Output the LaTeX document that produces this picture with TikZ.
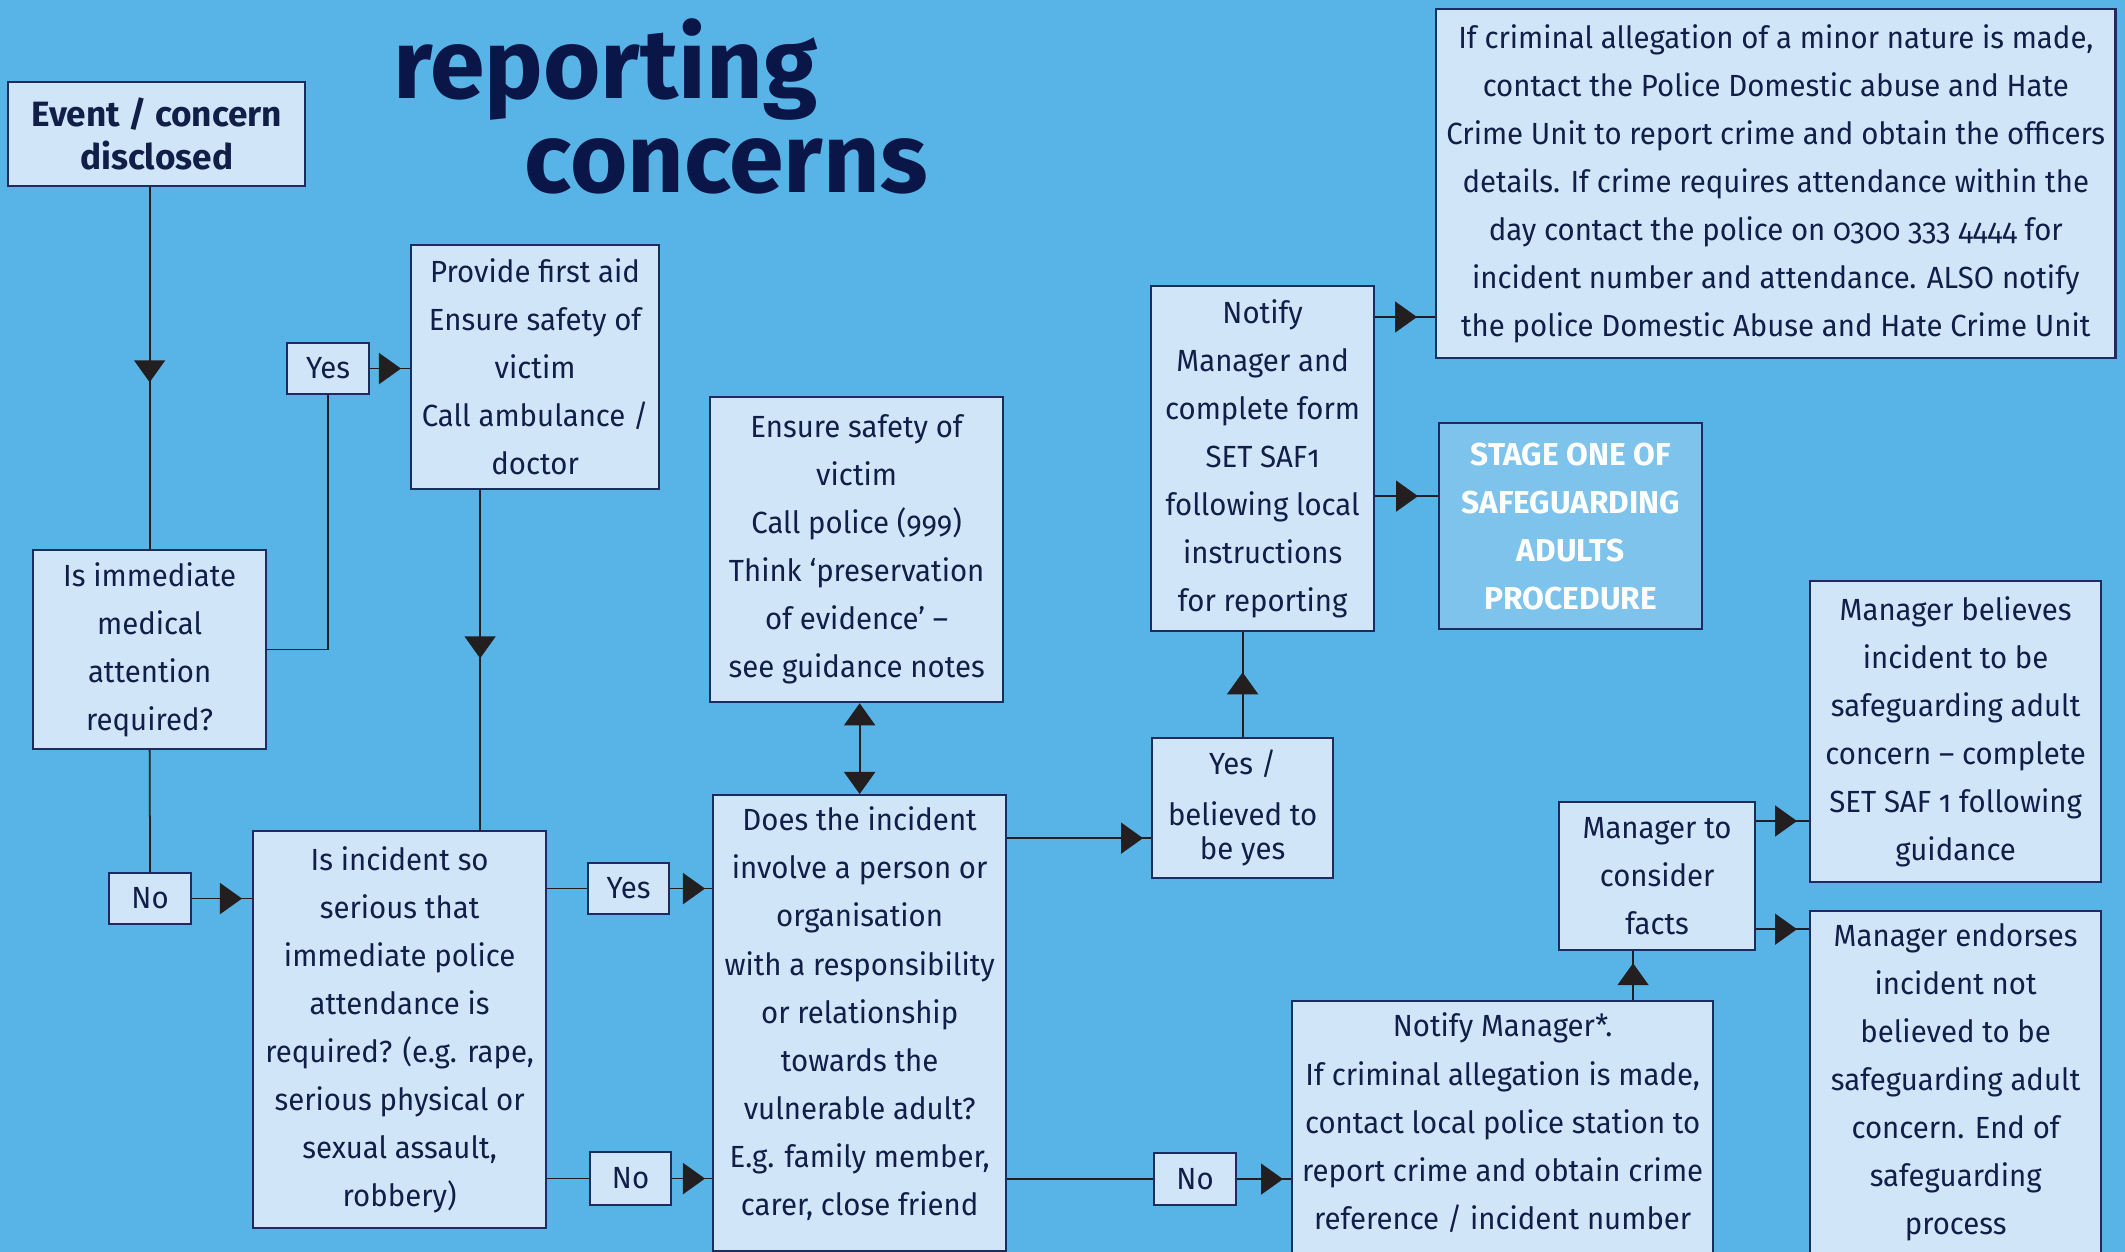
\documentclass[tikz,border=0pt]{standalone}
\usepackage{fontspec}
\setmainfont{Fira Sans}[Numbers=OldStyle]
\newfontfamily\bodyfont{Fira Sans}[Numbers=OldStyle, FakeStretch=0.96]
\usetikzlibrary{arrows.meta,decorations.markings}

\definecolor{sky}{RGB}{88,180,230}
\definecolor{boxfill}{RGB}{208,230,248}
\definecolor{boxline}{RGB}{28,44,96}
\definecolor{ink}{RGB}{16,30,72}
\definecolor{navy}{RGB}{11,22,72}
\definecolor{stagefill}{RGB}{126,195,236}
\definecolor{linecol}{RGB}{35,31,32}

\tikzset{
  tri/.tip={Triangle[length=0.22cm,width=0.31cm]},
  box/.style={draw=boxline, fill=boxfill, line width=0.6pt, anchor=north west,
    inner sep=0pt, align=center, text=ink, font=\bodyfont\fontsize{8.7}{13.66}\selectfont},
  link/.style={linecol, line width=0.5pt},
  tipat/.style={postaction={decorate, decoration={markings,
    mark=at position #1 with {\arrow{tri}}}}},
}

\begin{document}
\begin{tikzpicture}[x=0.01cm,y=-0.01cm]
\useasboundingbox[fill=sky] (0,0) rectangle (2125,1252);

% title
\node[anchor=base west, inner sep=0pt, text=navy, font=\fontsize{28}{30}\selectfont\bfseries] (title1) at (393,99) {reporting};
\node[anchor=base west, inner sep=0pt, text=navy, font=\fontsize{28}{30}\selectfont\bfseries] (title2) at (524,193) {concerns};

% left column
\node[box, minimum width=2.97cm, minimum height=1.04cm, font=\fontsize{10}{12.2}\selectfont\bfseries] (event) at (7,81) {Event / concern\\disclosed};
\node[box, minimum width=2.33cm, minimum height=1.99cm] (medq) at (32,549) {Is immediate\\medical\\attention\\required?};
\node[box, minimum width=0.82cm, minimum height=0.51cm] (yes1) at (286,342) {Yes};
\node[box, minimum width=2.48cm, minimum height=2.44cm] (aid) at (410,244) {Provide first aid\\Ensure safety of\\victim\\Call ambulance /\\doctor};
\node[box, minimum width=0.82cm, minimum height=0.51cm] (no1) at (108,872) {No};
\node[box, minimum width=2.93cm, minimum height=3.97cm] (policeq) at (252,830) {Is incident so\\serious that\\immediate police\\attendance is\\required? (e.g. rape,\\serious physical or\\sexual assault,\\robbery)};

% middle column
\node[box, minimum width=2.93cm, minimum height=3.05cm] (safety) at (709,396) {Ensure safety of\\victim\\Call police (999)\\Think ‘preservation\\of evidence’ –\\see guidance notes};
\node[box, minimum width=0.81cm, minimum height=0.51cm] (yes2) at (587,862) {Yes};
\node[box, minimum width=0.81cm, minimum height=0.53cm] (no2) at (589,1151) {No};
\node[box, minimum width=2.93cm, minimum height=4.56cm] (relq) at (712,794) {Does the incident\\involve a person or\\organisation\\with a responsibility\\or relationship\\towards the\\vulnerable adult?\\E.g. family member,\\carer, close friend\\[-6.8pt] \mbox{}};

% right part
\node[box, minimum width=1.81cm, minimum height=1.40cm] (believed) at (1151,737) {Yes /\\[0.9pt] believed to\\[-3.9pt] be yes};
\node[box, minimum width=2.23cm, minimum height=3.45cm] (notify) at (1150,285) {Notify\\Manager and\\complete form\\SET SAF1\\following local\\instructions\\for reporting};
\node[box, minimum width=6.79cm, minimum height=3.49cm] (minor) at (1435,8) {If criminal allegation of a minor nature is made,\\contact the Police Domestic abuse and Hate\\Crime Unit to report crime and obtain the officers\\details. If crime requires attendance within the\\day contact the police on 0300 333 4444 for\\incident number and attendance. ALSO notify\\the police Domestic Abuse and Hate Crime Unit};
\node[box, fill=stagefill, text=white, minimum width=2.63cm, minimum height=2.06cm, font=\fontsize{9}{13.66}\selectfont\bfseries] (stage) at (1438,422) {STAGE ONE OF\\SAFEGUARDING\\ADULTS\\PROCEDURE};
\node[box, minimum width=0.82cm, minimum height=0.52cm] (no3) at (1153,1152) {No};
\node[box, minimum width=4.21cm, minimum height=2.88cm] (nstar) at (1291,1000) {Notify Manager*.\\If criminal allegation is made,\\contact local police station to\\report crime and obtain crime\\reference / incident number\\ \mbox{}};
\node[box, minimum width=1.96cm, minimum height=1.48cm] (consider) at (1558,801) {Manager to\\consider\\facts};
\node[box, minimum width=2.91cm, minimum height=3.01cm] (believes) at (1809,580) {Manager believes\\incident to be\\safeguarding adult\\concern – complete\\SET SAF 1 following\\guidance};
\node[box, minimum width=2.91cm, minimum height=3.84cm] (endorses) at (1809,910) {Manager endorses\\incident not\\believed to be\\safeguarding adult\\concern. End of\\safeguarding\\process\\ \mbox{}};

% connectors
\draw[link, tipat=1.95cm] (event.south -| medq.north) -- (medq.north);
\draw[link] (medq.east) -| (yes1.south);
\draw[link, tipat=-0.09cm] (yes1.east) -- (yes1.east -| aid.west);
\draw[link] (medq.south) -- (no1.north);
\draw[link, tipat=-0.1cm] (no1.east) -- (no1.east -| policeq.west);
\draw[link, tipat=1.68cm] ([xshift=-0.55cm]aid.south) -- ([xshift=-0.55cm]aid.south |- policeq.north);
\draw[link] (yes2.west -| policeq.east) -- (yes2.west);
\draw[link, tipat=-0.07cm] (yes2.east) -- (yes2.east -| relq.west);
\draw[link] (no2.west -| policeq.east) -- (no2.west);
\draw[link, tipat=-0.07cm] (no2.east) -- (no2.east -| relq.west);
\draw[link, tri-tri] (relq.north |- safety.south) -- (relq.north);
\draw[link, tipat=-0.08cm] ([yshift=0.41cm]believed.south west -| relq.east) -- ([yshift=0.41cm]believed.south west);
\draw[link, tipat=-0.4cm] (believed.north) -- (believed.north |- notify.south);
\draw[link, tipat=-0.18cm] ([yshift=-0.32cm]notify.north east) -- ([yshift=-0.32cm]notify.north east -| minor.west);
\draw[link, tipat=-0.2cm] ([yshift=-2.11cm]notify.north east) -- ([yshift=-2.11cm]notify.north east -| stage.west);
\draw[link] (no3.west -| relq.east) -- (no3.west);
\draw[link, tipat=-0.08cm] (no3.east) -- (no3.east -| nstar.west);
\draw[link, tipat=-0.12cm] ([xshift=0.75cm]consider.south west |- nstar.north) -- ([xshift=0.75cm]consider.south west);
\draw[link, tipat=-0.12cm] ([yshift=-0.2cm]consider.north east) -- ([yshift=-0.2cm]consider.north east -| believes.west);
\draw[link, tipat=-0.12cm] ([yshift=0.22cm]consider.south east) -- ([yshift=0.22cm]consider.south east -| endorses.west);
\end{tikzpicture}
\end{document}
